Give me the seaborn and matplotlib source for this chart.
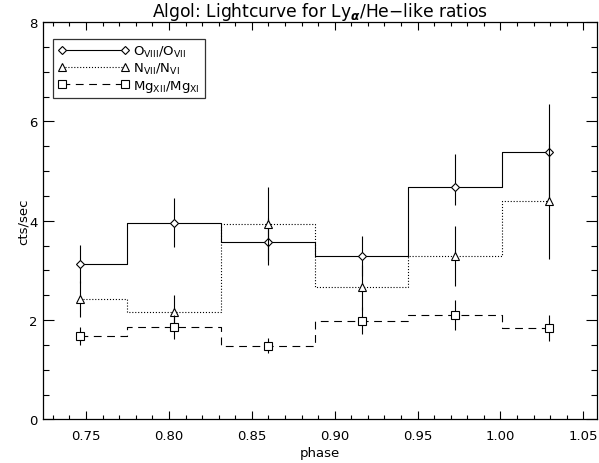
import numpy as np
import pandas as pd
import matplotlib
matplotlib.use("Agg")
import matplotlib.pyplot as plt
from matplotlib.lines import Line2D
from matplotlib.ticker import MultipleLocator, FormatStrFormatter
import seaborn as sns

# ---- data ----
phase = [0.7466, 0.8033, 0.8598, 0.9163, 0.9727, 1.0294]

o_ratio = [3.13, 3.96, 3.58, 3.29, 4.68, 5.38]
o_err_lo = [0.38, 0.49, 0.48, 0.41, 0.37, 0.96]
o_err_hi = [0.38, 0.49, 0.48, 0.41, 0.67, 0.96]

n_ratio = [2.42, 2.16, 3.94, 2.66, 3.29, 4.39]
n_err = [0.36, 0.35, 0.74, 0.45, 0.60, 1.16]

mg_ratio = [1.68, 1.86, 1.48, 1.99, 2.11, 1.84]
mg_err = [0.19, 0.24, 0.15, 0.27, 0.30, 0.27]

labels = [r"O$_{\rm VIII}$/O$_{\rm VII}$",
          r"N$_{\rm VII}$/N$_{\rm VI}$",
          r"Mg$_{\rm XII}$/Mg$_{\rm XI}$"]
title = r"Algol: Lightcurve for Ly$_{\boldsymbol{\alpha}}$/He$-$like ratios"

sns.set_style("ticks")
plt.rcParams["font.family"] = ["DejaVu Sans"]
plt.rcParams["mathtext.fontset"] = "dejavusans"
plt.rcParams["text.color"] = "black"
plt.rcParams["axes.labelcolor"] = "black"
plt.rcParams["xtick.color"] = "black"
plt.rcParams["ytick.color"] = "black"

fig = plt.figure(figsize=(5.99, 4.64), dpi=100)
ax = fig.add_axes([0.0723, 0.0938, 0.9244, 0.8566])

LW = 0.8
series = [
    (o_ratio, (o_err_lo, o_err_hi), "D", "-", 4.5),
    (n_ratio, (n_err, n_err), "^", ":", 5.6),
    (mg_ratio, (mg_err, mg_err), "s", (0, (7, 5)), 5.3),
]

df = pd.DataFrame({"phase": phase})
for (vals, (elo, ehi), mk, ls, ms) in series:
    df["v"] = vals
    sns.lineplot(data=df, x="phase", y="v", ax=ax, color="black",
                 linewidth=LW, linestyle=ls, drawstyle="steps-mid",
                 legend=False)
    ax.errorbar(phase, vals, yerr=[elo, ehi], fmt="none", ecolor="black",
                elinewidth=LW, capsize=0)
    ax.plot(phase, vals, linestyle="none", marker=mk, markersize=ms,
            markerfacecolor="white", markeredgecolor="black",
            markeredgewidth=0.8)

ax.set_xlim(0.7242, 1.0583)
ax.set_ylim(0, 8)
ax.xaxis.set_major_locator(MultipleLocator(0.05))
ax.xaxis.set_minor_locator(MultipleLocator(0.01))
ax.yaxis.set_major_locator(MultipleLocator(2))
ax.yaxis.set_minor_locator(MultipleLocator(0.5))
ax.xaxis.set_major_formatter(FormatStrFormatter("%.2f"))
ax.yaxis.set_major_formatter(FormatStrFormatter("%d"))

ax.tick_params(axis="x", which="major", direction="in", length=5.8, width=0.8,
               top=True, bottom=True, labelsize=9.5, pad=7)
ax.tick_params(axis="x", which="minor", direction="in", length=2.9, width=0.8,
               top=True, bottom=True)
ax.tick_params(axis="y", which="major", direction="in", length=8, width=0.8,
               left=True, right=True, labelsize=9.5, pad=4)
ax.tick_params(axis="y", which="minor", direction="in", length=4, width=0.8,
               left=True, right=True)
for sp in ax.spines.values():
    sp.set_visible(True)
    sp.set_linewidth(0.9)
    sp.set_color("black")

ax.set_xlabel("phase", fontsize=9.5, labelpad=3)
ax.set_ylabel("cts/sec", fontsize=9.5, labelpad=0)
ax.set_title(title, fontsize=12.3, pad=4, color="black")

handles = []
for (vals, _, mk, ls, ms) in series:
    handles.append(Line2D([0], [0], color="black", linewidth=LW, linestyle=ls,
                          marker=mk, markersize=ms, markerfacecolor="white",
                          markeredgecolor="black", markeredgewidth=0.8))
leg = ax.legend(handles, labels, loc="upper left", numpoints=2,
                handlelength=5.4, fontsize=9.5, frameon=True, fancybox=False,
                borderpad=0.35, labelspacing=0.15, handletextpad=0.35,
                borderaxespad=0.0, bbox_to_anchor=(0.0175, 0.957))
leg.get_frame().set_edgecolor("black")
leg.get_frame().set_linewidth(0.9)

fig.savefig("out.png", dpi=100)
